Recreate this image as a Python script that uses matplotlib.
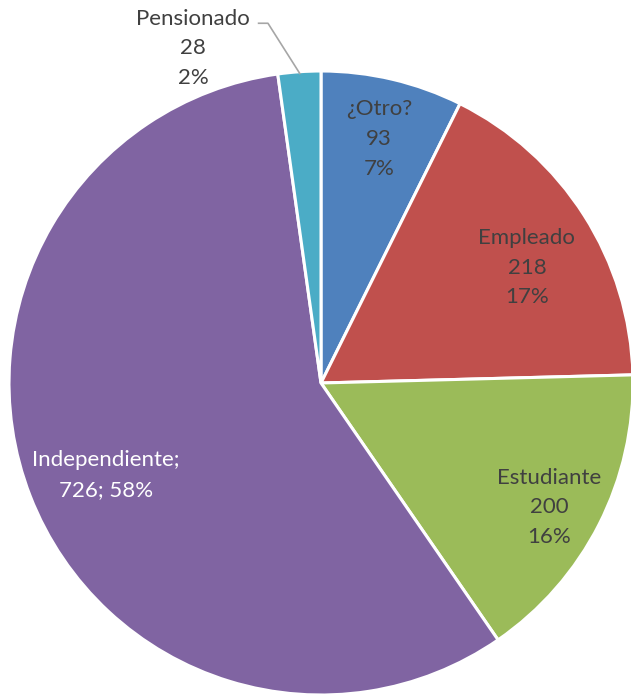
import matplotlib.pyplot as plt

# datos del gráfico
categorias = ['¿Otro?', 'Empleado', 'Estudiante', 'Independiente', 'Pensionado']
valores = [93, 218, 200, 726, 28]
porcentajes = ['7%', '17%', '16%', '58%', '2%']
colores = ['#4F81BD', '#C0504D', '#9BBB59', '#8064A2', '#4BACC6']

plt.rcParams['font.family'] = ['Lato', 'DejaVu Sans']

fig = plt.figure(figsize=(6.31, 6.96), dpi=100)
R = 312
cx, cy = 321, 383
ax = fig.add_axes([(cx - R) / 631, (696 - cy - R) / 696, 2 * R / 631, 2 * R / 696])

wedges, _ = ax.pie(valores, colors=colores, startangle=90, counterclock=False,
                   radius=1.0, wedgeprops=dict(edgecolor='white', linewidth=2.2))
ax.set_xlim(-1, 1)
ax.set_ylim(-1, 1)
ax.set_aspect('auto')
ax.axis('off')

# posición de cada etiqueta (unidades del radio)
pos_etiquetas = [(0.186, 0.782), (0.66, 0.37), (0.731, -0.398), (-0.69, -0.295), (-0.41, 1.073)]
for i, (cat, v, p) in enumerate(zip(categorias, valores, porcentajes)):
    x, y = pos_etiquetas[i]
    color = '#404040'
    if cat == 'Independiente':
        texto = f'{cat};\n{v}; {p}'
        color = 'white'
    else:
        texto = f'{cat}\n{v}\n{p}'
    ax.text(x, y, texto, ha='center', va='center', fontsize=16, color=color,
            linespacing=1.6, clip_on=False)

# línea guía de Pensionado
ax.plot([-0.2, -0.17, -0.068], [1.153, 1.153, 0.992], color='#A6A6A6', lw=1.2,
        clip_on=False)

fig.savefig('out.png', dpi=100)
